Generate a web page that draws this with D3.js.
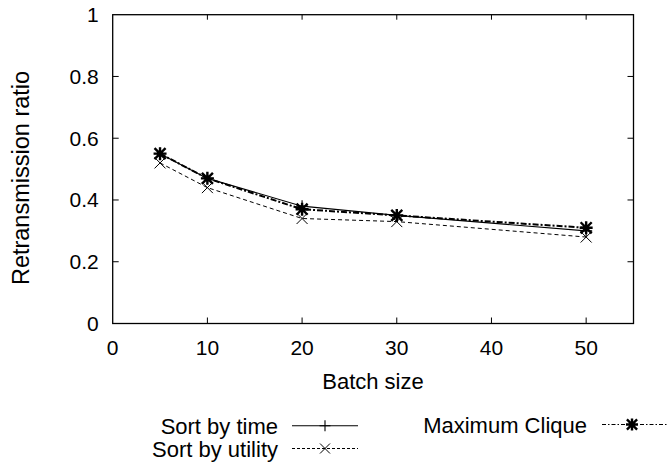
<!DOCTYPE html>
<html>
<head>
<meta charset="utf-8">
<script src="https://cdn.jsdelivr.net/npm/d3@7"></script>
<style>
  html, body { margin: 0; padding: 0; background: #fff; }
  svg { display: block; font-family: "Liberation Sans", Arial, sans-serif; }
</style>
</head>
<body>
<svg id="chart" width="667" height="464"></svg>
<script>
// Batch sizes on the x axis
const batchSizes = [5, 10, 20, 30, 50];

// Retransmission ratio per strategy
const sortByTime    = [0.55, 0.47, 0.38, 0.35, 0.30];
const sortByUtility = [0.52, 0.44, 0.34, 0.33, 0.28];
const maxClique     = [0.55, 0.47, 0.37, 0.35, 0.31];

const xTicks = [0, 10, 20, 30, 40, 50];
const yTicks = [0, 0.2, 0.4, 0.6, 0.8, 1];

const seriesNames = ["Sort by time", "Sort by utility", "Maximum Clique"];

const svg = d3.select("#chart");
const plot = { left: 112.7, right: 633.5, top: 14.7, bottom: 323.5 };

const x = d3.scaleLinear().domain([0, 55]).range([plot.left, plot.right]);
const y = d3.scaleLinear().domain([0, 1]).range([plot.bottom, plot.top]);

// axis ticks (inward) with mirrored ticks on top and right
const tickLen = 6;
const ax = svg.append("g").attr("stroke", "#000").attr("stroke-width", 1);
xTicks.forEach(t => {
  if (t === 0) return;
  ax.append("line").attr("x1", x(t)).attr("x2", x(t)).attr("y1", plot.bottom).attr("y2", plot.bottom - tickLen);
  ax.append("line").attr("x1", x(t)).attr("x2", x(t)).attr("y1", plot.top).attr("y2", plot.top + tickLen - 1);
});
yTicks.forEach(t => {
  if (t === 0 || t === 1) return;
  ax.append("line").attr("x1", plot.left).attr("x2", plot.left + tickLen).attr("y1", y(t)).attr("y2", y(t));
  ax.append("line").attr("x1", plot.right).attr("x2", plot.right - tickLen).attr("y1", y(t)).attr("y2", y(t));
});

// frame
svg.append("rect")
  .attr("x", plot.left).attr("y", plot.top)
  .attr("width", plot.right - plot.left).attr("height", plot.bottom - plot.top)
  .attr("fill", "none").attr("stroke", "#000").attr("stroke-width", 1.3);

// tick labels
svg.append("g").selectAll("text").data(xTicks).join("text")
  .attr("x", d => x(d)).attr("y", plot.bottom + 31.5)
  .attr("text-anchor", "middle").attr("font-size", 21).text(d => d);
svg.append("g").selectAll("text").data(yTicks).join("text")
  .attr("x", plot.left - 14).attr("y", d => y(d) + 7.5)
  .attr("text-anchor", "end").attr("font-size", 21).text(d => d);

// axis titles
svg.append("text").attr("x", 373).attr("y", 388.5)
  .attr("text-anchor", "middle").attr("font-size", 22).text("Batch size");
svg.append("text")
  .attr("transform", "translate(29,178) rotate(-90)")
  .attr("text-anchor", "middle").attr("font-size", 23.5).text("Retransmission ratio");

// marker paths
function plusPath(cx, cy, r) {
  return `M${cx - r},${cy}H${cx + r}M${cx},${cy - r}V${cy + r}`;
}
function crossPath(cx, cy, r) {
  return `M${cx - r},${cy - r}L${cx + r},${cy + r}M${cx - r},${cy + r}L${cx + r},${cy - r}`;
}
function starPath(cx, cy, r) {
  return plusPath(cx, cy, r) + crossPath(cx, cy, r * 0.85);
}

const styles = [
  { values: sortByTime,    dash: null,      width: 1.1, marker: plusPath,  r: 6,   mw: 1.1, legendDash: null },
  { values: sortByUtility, dash: "4,3",     width: 1.0, marker: crossPath, r: 5.5, mw: 1.0, legendDash: "3,2" },
  { values: maxClique,     dash: "6,2,2,2", width: 2.0, marker: starPath,  r: 6.5, mw: 2.4, legendDash: "4,2,1.5,2" }
];

const line = d3.line().x(d => x(d[0])).y(d => y(d[1]));

styles.forEach(s => {
  const pts = batchSizes.map((b, i) => [b, s.values[i]]);
  svg.append("path").attr("d", line(pts))
    .attr("fill", "none").attr("stroke", "#000")
    .attr("stroke-width", s.width)
    .attr("stroke-dasharray", s.dash);
  svg.append("path")
    .attr("d", pts.map(p => s.marker(x(p[0]), y(p[1]), s.r)).join(""))
    .attr("fill", "none").attr("stroke", "#000").attr("stroke-width", s.mw);
});

// legend
const legendRows = [
  { name: seriesNames[0], s: styles[0], tx: 278,   ly: 425.7, lx1: 292, lx2: 358, mx: 325, lw: 1.1 },
  { name: seriesNames[1], s: styles[1], tx: 278,   ly: 448.5, lx1: 292, lx2: 358, mx: 325, lw: 1.0 },
  { name: seriesNames[2], s: styles[2], tx: 587,   ly: 424.5, lx1: 602, lx2: 667, mx: 632, lw: 1.2 }
];
legendRows.forEach(l => {
  svg.append("text").attr("x", l.tx).attr("y", l.ly + 8)
    .attr("text-anchor", "end").attr("font-size", 22).text(l.name);
  svg.append("line").attr("x1", l.lx1).attr("x2", l.lx2)
    .attr("y1", l.ly).attr("y2", l.ly).attr("stroke", "#000")
    .attr("stroke-width", l.lw)
    .attr("stroke-dasharray", l.s.legendDash);
  svg.append("path").attr("d", l.s.marker(l.mx, l.ly, l.s.r - 0.5))
    .attr("fill", "none").attr("stroke", "#000").attr("stroke-width", l.s.mw);
});
</script>
</body>
</html>
